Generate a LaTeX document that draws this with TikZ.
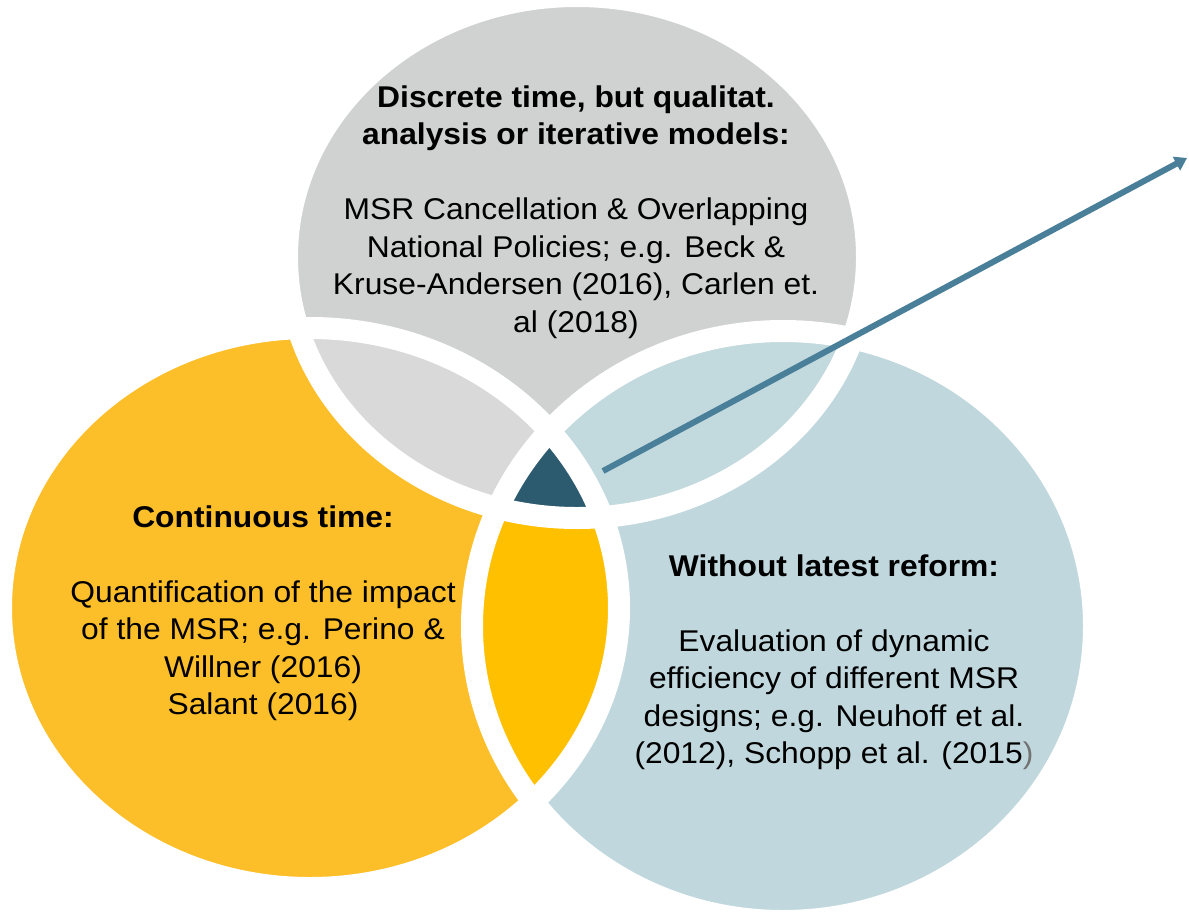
\documentclass[tikz,border=0pt]{standalone}
\usepackage{fontspec}
\setmainfont{Liberation Sans}[FakeStretch=1.06]
\usetikzlibrary{arrows.meta}

\definecolor{setgray}{HTML}{D0D1D1}
\definecolor{lensgray}{HTML}{D9D9D9}
\definecolor{setorange}{HTML}{FCBF29}
\definecolor{lensorange}{HTML}{FFC000}
\definecolor{setblue}{HTML}{C0D8DD}
\definecolor{lensblue}{HTML}{C2D9DE}
\definecolor{coreteal}{HTML}{2C5A6E}
\definecolor{arrowblue}{HTML}{4A7F9A}

\begin{document}
\begin{tikzpicture}[x=0.5pt, y=-0.5pt,
    grayset/.style={insert path={(cgray) ellipse [x radius=290, y radius=261]}},
    orangeset/.style={insert path={(corange) ellipse [x radius=309, y radius=280]}},
    blueset/.style={insert path={(cblue) ellipse [x radius=311, y radius=295]}},
    gapline/.style={draw=white, line width=11pt},
    txt/.style={align=center, inner sep=0pt, font=\fontsize{15}{18.75}\selectfont},
    arr/.style={-{Triangle[length=6pt, width=7.5pt]}, line width=3pt, draw=arrowblue}
]
\useasboundingbox (0,0) rectangle (1189,917);
\fill[white] (0,0) rectangle (1189,917);

\coordinate (cgray) at (577,257);
\coordinate (corange) at (310,608);
\coordinate (cblue) at (783,626);

% the three sets
\fill[setgray, grayset];
\fill[setorange, orangeset];
\fill[setblue, blueset];

% pairwise overlaps
\begin{scope}
  \clip[grayset];
  \fill[lensgray, orangeset];
  \fill[lensblue, blueset];
\end{scope}
\begin{scope}
  \clip[orangeset];
  \fill[lensorange, blueset];
\end{scope}

% common part of all three
\begin{scope}
  \clip[grayset];
  \clip[orangeset];
  \fill[coreteal, blueset];
\end{scope}

% white gaps along every outline
\draw[gapline, grayset];
\draw[gapline, orangeset];
\draw[gapline, blueset];

\node[txt] (graytext) at (576,212) {\textbf{Discrete time, but qualitat.}\\\textbf{analysis or iterative models:}\\[18.75pt]MSR Cancellation \& Overlapping\\National Policies; e.g. Beck \&\\Kruse-Andersen (2016), Carlen et.\\al (2018)};
\node[txt] (orangetext) at (263,613) {\textbf{Continuous time:}\\[18.75pt]Quantification of the impact\\of the MSR; e.g. Perino \&\\Willner (2016)\\Salant (2016)};
\node[txt] (bluetext) at (834,662) {\textbf{Without latest reform:}\\[18.75pt]Evaluation of dynamic\\efficiency of different MSR\\designs; e.g. Neuhoff et al.\\(2012), Schopp et al. (2015{\color{black!55})}};

\coordinate (linkfrom) at (603,471);
\coordinate (linkto) at (1187,158);
\draw[arr] (linkfrom) -- (linkto);
\end{tikzpicture}
\end{document}
